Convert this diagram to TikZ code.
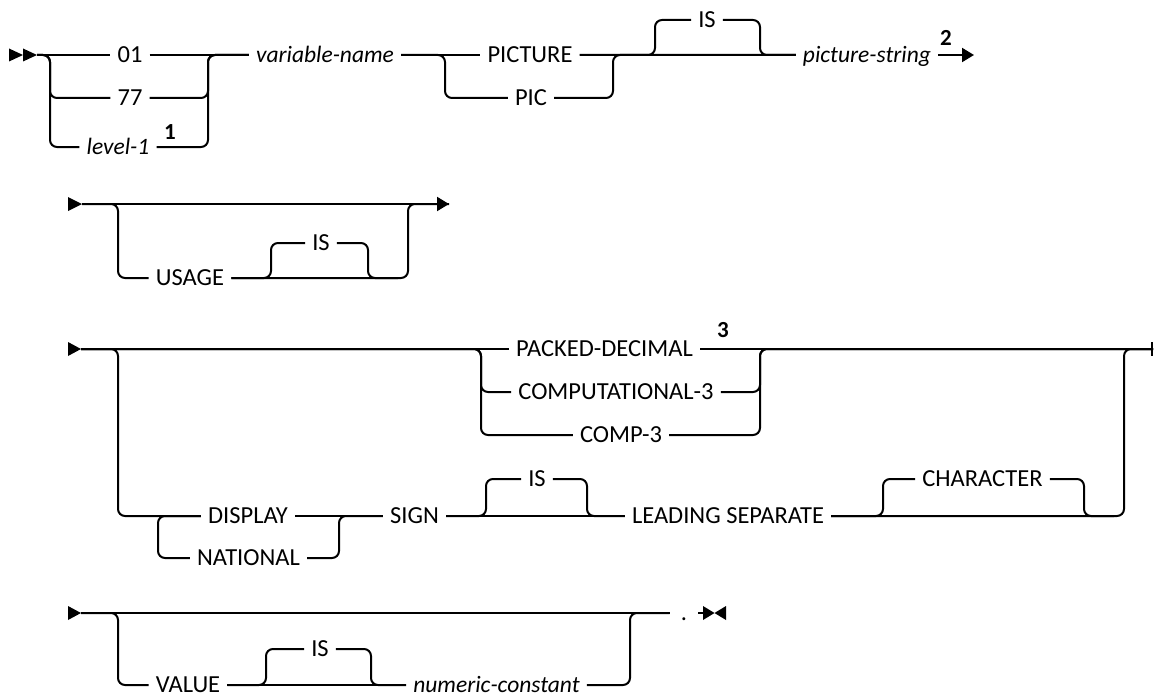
\documentclass[tikz,border=0pt]{standalone}
\usepackage{fontspec}
\setmainfont{Carlito}
\usetikzlibrary{arrows.meta}

\begin{document}
\begin{tikzpicture}[
  x=1pt, y=-1pt,
  kw/.style={font=\fontsize{24.5}{28}\selectfont, inner xsep=7pt, inner ysep=0pt,
             text height=15.8pt, text depth=0pt},
  var/.style={kw, font=\fontsize{23.5}{27}\selectfont\itshape, text height=15.2pt},
  fnote/.style={font=\fontsize{23}{26}\selectfont\bfseries, inner sep=0pt},
  rail/.style={line width=2pt, rounded corners=7pt},
  endarrow/.style={rail, -{Triangle[length=12pt, width=14pt]}},
  endbar/.style={rail, -{Bar[width=14pt]}}
]
\useasboundingbox (0,0) rectangle (1155,698);

% ── Row 1: level, name, PICTURE clause ───────────────────
\fill (9,48.5) -- (23,55) -- (9,61.5) -- cycle;
\fill (23,48.5) -- (37,55) -- (23,61.5) -- cycle;
\coordinate (r1s) at (37,55);
\coordinate (c1l) at (50,55);
\coordinate (c1r) at (208,55);
\coordinate (c2l) at (445,55);
\coordinate (c2r) at (613,55);
\coordinate (c3l) at (655,55);
\coordinate (c3r) at (760,55);
\coordinate (r1e) at (974,55);

\node[kw]    (n01)     at (130,55)  {01};
\node[kw]    (n77)     at (130,98)  {77};
\node[var]   (lvl)     at (118,147) {level-1};
\node[fnote] (fn1)     at (170,132) {1};
\node[var]   (varname) at (325,55)  {variable-name};
\node[kw]    (pict)    at (530,55)  {PICTURE};
\node[kw]    (pic)     at (531,98)  {PIC};
\node[kw]    (is1)     at (707,20)  {IS};
\node[var]   (picstr)  at (867,55)  {picture-string};
\node[fnote] (fn2)     at (946,38)  {2};

\draw[rail] (r1s) -- (n01.west);
\draw[rail] (n01.east) -- (varname.west);
\draw[rail] (r1s) -| (n77.west -| c1l) -- (n77.west);
\draw[rail] (r1s) -| (lvl.west -| c1l) -- (lvl.west);
\draw[rail] (n77.east) -| (c1r) -- (varname.west);
\draw[rail] (lvl.east) -| (c1r) -- (varname.west);

\draw[rail] (varname.east) -- (pict.west);
\draw[rail] (pict.east) -- (picstr.west);
\draw[rail] (varname.east) -| (pic.west -| c2l) -- (pic.west);
\draw[rail] (pic.east) -| (c2r) -- (picstr.west);
\draw[rail] (pict.east) -| (is1.west -| c3l) -- (is1.west);
\draw[rail] (is1.east) -| (c3r) -- (picstr.west);
\draw[endarrow] (picstr.east) -- (r1e);

% ── Row 2: USAGE clause ──────────────────────────────────
\fill (68,197) -- (82,204) -- (68,211) -- cycle;
\coordinate (r2s) at (82,204);
\coordinate (c4l) at (118,204);
\coordinate (c4r) at (408,204);
\coordinate (c5l) at (271,278);
\coordinate (c5r) at (368,278);
\coordinate (c5e) at (398,278);
\coordinate (r2e) at (449,204);

\node[kw] (usage) at (190,278) {USAGE};
\node[kw] (is2)   at (321,243) {IS};

\draw[endarrow] (r2s) -- (r2e);
\draw[rail] (r2s) -| (usage.west -| c4l) -- (usage.west);
\draw[rail] (usage.east) -| (c4r) -- (r2e);
\draw[rail] (usage.east) -| (is2.west -| c5l) -- (is2.west);
\draw[rail] (is2.east) -| (c5r) -- (c5e);

% ── Row 3: packed decimal or sign clause ─────────────────
\fill (68,342) -- (81,349) -- (68,356) -- cycle;
\coordinate (r3s) at (81,349);
\coordinate (c6l) at (118,349);
\coordinate (c6r) at (1124,349);
\coordinate (c7l) at (481,349);
\coordinate (c7r) at (760,349);
\coordinate (c8l) at (158,516);
\coordinate (c8r) at (339,516);
\coordinate (c9l) at (486,516);
\coordinate (c9r) at (587,516);
\coordinate (c10l) at (883,516);
\coordinate (c10r) at (1084,516);
\coordinate (c10e) at (1114,516);
\coordinate (r3e) at (1153,349);

\node[kw]    (packed) at (604.5,349) {PACKED-DECIMAL};
\node[fnote] (fn3)    at (723,330)   {3};
\node[kw]    (compl)  at (616,392)   {COMPUTATIONAL-3};
\node[kw]    (comp3)  at (621,435)   {COMP-3};
\node[kw]    (disp)   at (248,516)   {DISPLAY};
\node[kw]    (nat)    at (248.5,558) {NATIONAL};
\node[kw]    (sign)   at (414.5,516) {SIGN};
\node[kw]    (is3)    at (537,479)   {IS};
\node[kw]    (lead)   at (728,516)   {LEADING SEPARATE};
\node[kw]    (char)   at (982.5,479) {CHARACTER};

\draw[rail] (r3s) -- (packed.west);
\draw[endbar] (packed.east) -- (r3e);
\draw[rail] (r3s) -| (compl.west -| c7l) -- (compl.west);
\draw[rail] (r3s) -| (comp3.west -| c7l) -- (comp3.west);
\draw[rail] (compl.east) -| (c7r) -- (r3e);
\draw[rail] (comp3.east) -| (c7r) -- (r3e);

\draw[rail] (r3s) -| (disp.west -| c6l) -- (disp.west);
\draw[rail] (disp.west) -| (nat.west -| c8l) -- (nat.west);
\draw[rail] (disp.east) -- (sign.west);
\draw[rail] (nat.east) -| (c8r) -- (sign.west);
\draw[rail] (sign.east) -- (lead.west);
\draw[rail] (sign.east) -| (is3.west -| c9l) -- (is3.west);
\draw[rail] (is3.east) -| (c9r) -- (lead.west);
\draw[rail] (lead.east) -| (c6r) -- (r3e);
\draw[rail] (lead.east) -| (char.west -| c10l) -- (char.west);
\draw[rail] (char.east) -| (c10r) -- (c10e);

% ── Row 4: VALUE clause ──────────────────────────────────
\fill (68,606) -- (81,613) -- (68,620) -- cycle;
\coordinate (r4s) at (81,613);
\coordinate (c11l) at (118,613);
\coordinate (c11r) at (630,613);
\coordinate (c12l) at (266,685);
\coordinate (c12r) at (371,685);
\coordinate (r4e) at (703,613);

\node[kw]  (value) at (188,685)   {VALUE};
\node[kw]  (is4)   at (320,649)   {IS};
\node[var] (numc)  at (496.5,685) {numeric-constant};
\node[kw, inner xsep=11pt] (dot) at (684,613) {.};

\draw[rail] (r4s) -- (dot.west);
\draw[rail] (r4s) -| (value.west -| c11l) -- (value.west);
\draw[rail] (value.east) -- (numc.west);
\draw[rail] (value.east) -| (is4.west -| c12l) -- (is4.west);
\draw[rail] (is4.east) -| (c12r) -- (numc.west);
\draw[rail] (numc.east) -| (c11r) -- (dot.west);
\draw[rail] (dot.east) -- (r4e);
\fill (703,606) -- (714.5,613) -- (703,620) -- cycle;
\fill (726,606) -- (714.5,613) -- (726,620) -- cycle;

\end{tikzpicture}
\end{document}
